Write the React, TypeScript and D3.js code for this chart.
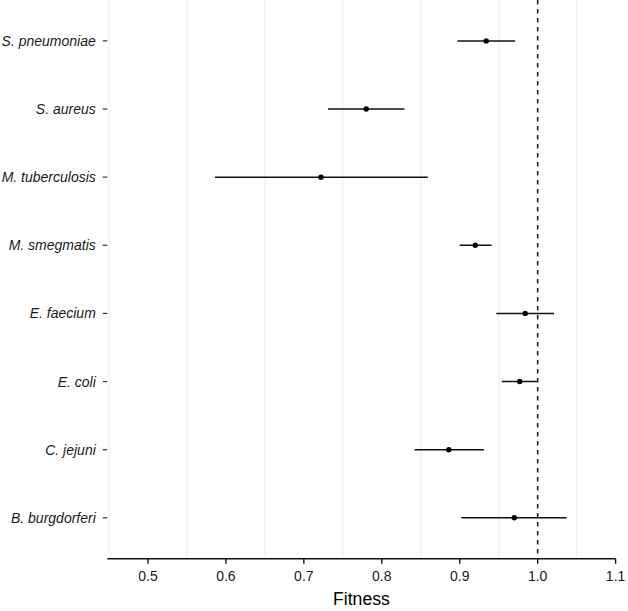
import React from "react";
import * as d3 from "d3";

const species = [
  "S. pneumoniae",
  "S. aureus",
  "M. tuberculosis",
  "M. smegmatis",
  "E. faecium",
  "E. coli",
  "C. jejuni",
  "B. burgdorferi",
];
const fitness = [0.934, 0.78, 0.722, 0.92, 0.984, 0.977, 0.886, 0.97];
const lower = [0.897, 0.731, 0.586, 0.9, 0.947, 0.954, 0.842, 0.902];
const upper = [0.971, 0.829, 0.859, 0.941, 1.021, 0.999, 0.931, 1.037];
const xTicks = [0.5, 0.6, 0.7, 0.8, 0.9, 1.0, 1.1];
const xMinor = [0.45, 0.55, 0.65, 0.75, 0.85, 0.95, 1.05];
const xDomain = [0.4478, 1.1];
const refValue = 1.0;

const W = 628;
const H = 611;
const left = 107.3;
const right = 615.6;
const top = 0;
const bottom = 558.7;
const font = "'Liberation Sans', Arial, Helvetica, sans-serif";

export default function App() {
  const x = d3.scaleLinear().domain(xDomain).range([left, right]);
  const y = d3.scalePoint<string>().domain(species).range([top, bottom]).padding(0.6);
  const fmt = d3.format(".1f");

  return (
    <svg
      width={W}
      height={H}
      style={{ position: "absolute", left: 0, top: 0, background: "#fff" }}
      fontFamily={font}
    >
      {xMinor.map((v) => (
        <line key={"g" + v} x1={x(v)} x2={x(v)} y1={top} y2={bottom} stroke="#ededed" strokeWidth={1.1} />
      ))}
      <line
        x1={x(refValue)}
        x2={x(refValue)}
        y1={top}
        y2={bottom}
        stroke="#222"
        strokeWidth={1.6}
        strokeDasharray="4.5,4.5"
      />
      {species.map((s, i) => (
        <g key={s}>
          <line x1={x(lower[i])} x2={x(upper[i])} y1={y(s)} y2={y(s)} stroke="#111" strokeWidth={1.5} />
          <circle cx={x(fitness[i])} cy={y(s)} r={2.7} fill="#000" />
          <line x1={left - 4.5} x2={left} y1={y(s)} y2={y(s)} stroke="#333" strokeWidth={1.2} />
          <text
            x={left - 11.5}
            y={y(s)}
            dy="0.36em"
            textAnchor="end"
            fontStyle="italic"
            fontSize={14}
            fill="#1a1a1a"
          >
            {s}
          </text>
        </g>
      ))}
      <line x1={left} x2={right} y1={bottom} y2={bottom} stroke="#111" strokeWidth={1.4} />
      {xTicks.map((v) => (
        <g key={"t" + v}>
          <line x1={x(v)} x2={x(v)} y1={bottom} y2={bottom + 5} stroke="#111" strokeWidth={1.4} />
          <text x={x(v)} y={bottom + 22.3} textAnchor="middle" fontSize={14} fill="#1a1a1a">
            {fmt(v)}
          </text>
        </g>
      ))}
      <text x={(left + right) / 2} y={605} textAnchor="middle" fontSize={17.6} fill="#000">
        Fitness
      </text>
    </svg>
  );
}
